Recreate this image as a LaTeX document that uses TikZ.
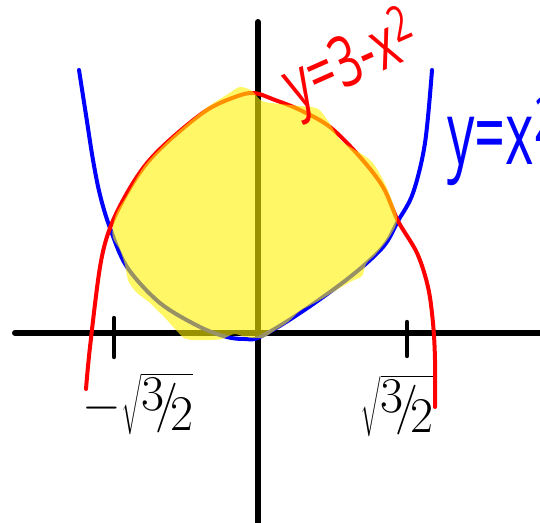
\documentclass[tikz,border=0pt]{standalone}
\usepackage{fontspec}
\setsansfont{Open Sans}
\begin{document}
\begin{tikzpicture}[x=0.5pt,y=-0.5pt,
  axis/.style={line width=3pt,black,line cap=round},
  tickmark/.style={line width=2.2pt,black,line cap=round},
  curve/.style={line width=2pt,line cap=round},
  hl/.style={fill=yellow,fill opacity=0.6},
  lab/.style={inner sep=0pt,font=\sffamily\fontsize{32}{32}\selectfont},
  ticklab/.style={inner sep=0pt,font=\fontsize{25}{25}\selectfont}]
\useasboundingbox (0,0) rectangle (540,523);
\clip (0,0) rectangle (540,523);
% axes
\coordinate (xl) at (15,333); \coordinate (xr) at (545,333);
\coordinate (yt) at (258,22); \coordinate (yb) at (258,530);
\draw[axis] (xl) -- (xr);
\draw[axis] (yt) -- (yb);
% ticks
\coordinate (ta) at (114,318); \coordinate (tb) at (114,357);
\coordinate (tc) at (407,322); \coordinate (td) at (407,356);
\draw[tickmark] (ta) -- (tb);
\draw[tickmark] (tc) -- (td);
% blue curve y=x^2
\draw[curve,blue] plot[smooth,tension=0.55] coordinates {(79,70) (86,115) (93,160) (100,195) (110,228) (127,267) (160,303) (200,327) (227,337) (245,339) (260,337) (300,313) (350,277) (383,247) (398,221) (413,193) (425,143) (432,70)};
% red curve y=3-x^2
\draw[curve,red] plot[smooth,tension=0.55] coordinates {(86,389) (90,347) (100,267) (110,228) (127,193) (147,163) (173,137) (207,110) (235,97) (254,93) (275,100) (300,110) (330,127) (360,157) (383,187) (398,221) (417,253) (428,287) (433,323) (435,360) (435,407)};
% highlighted region
\fill[hl] plot[smooth cycle,tension=0.5] coordinates {(113,226) (117,212) (126,197) (145,165) (172,137) (205,109) (228,94) (240,87) (252,91) (262,101) (280,104) (300,106) (318,109) (330,124) (340,140) (355,150) (372,162) (386,186) (397,218) (390,236) (376,254) (366,264) (362,276) (350,282) (320,300) (300,311) (288,322) (274,331) (262,338) (246,337) (234,334) (222,339) (205,340) (186,339) (176,330) (165,318) (150,303) (136,292) (128,280) (125,265) (120,250) (113,238)};
% labels
\node[lab,red,rotate=24,xscale=0.75,yscale=1.1] (lr) at (352,64) {y=3-x\textsuperscript{2}};
\node[lab,blue,anchor=base west,xscale=0.8,yscale=1.3,font=\sffamily\fontsize{34}{34}\selectfont] (lb) at (447,165) {y=x\textsuperscript{2}};
\node[ticklab] (l1) at (138,404) {$-\sqrt{\raisebox{0.45ex}{3}\!/\!\raisebox{-0.45ex}{2}}$};
\node[ticklab] (l2) at (397,406) {$\sqrt{\raisebox{0.45ex}{3}\!/\!\raisebox{-0.45ex}{2}}$};
\end{tikzpicture}
\end{document}
